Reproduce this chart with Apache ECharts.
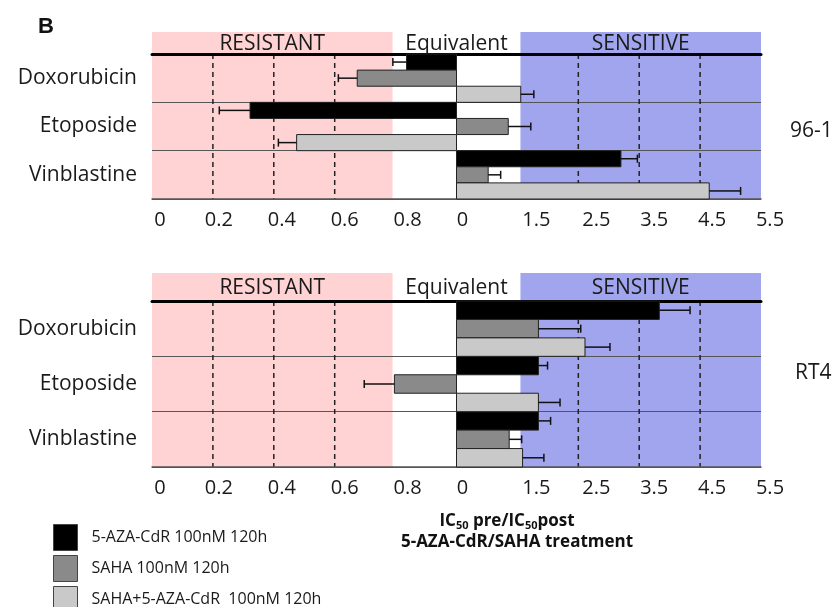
<!DOCTYPE html>
<html>
<head>
<meta charset="utf-8">
<script src="https://cdn.jsdelivr.net/npm/echarts@6/dist/echarts.min.js"></script>
<style>html,body{margin:0;padding:0;background:#fff;}#c{width:836px;height:607px;}</style>
</head>
<body>
<div id="c"></div>
<script>
// ---------- data ----------
const drugs = ['Doxorubicin', 'Etoposide', 'Vinblastine'];
const treatments = ['5-AZA-CdR 100nM 120h', 'SAHA 100nM 120h', 'SAHA+5-AZA-CdR  100nM 120h'];
const cellLines = ['96-1', 'RT4'];
// bar ends and error-bar ends, read as positions on the chart's own axis
// (axis runs 0..2, the centre "no change" line is at 1)
const aza_96_1       = [0.836, 0.322, 1.540];
const aza_96_1_err   = [0.791, 0.221, 1.594];
const saha_96_1      = [0.674, 1.170, 1.104];
const saha_96_1_err  = [0.612, 1.244, 1.145];
const combo_96_1     = [1.211, 0.475, 1.830];
const combo_96_1_err = [1.254, 0.415, 1.933];
const aza_rt4        = [1.666, 1.269, 1.269];
const aza_rt4_err    = [1.767, 1.299, 1.309];
const saha_rt4       = [1.269, 0.796, 1.173];
const saha_rt4_err   = [1.408, 0.697, 1.214];
const combo_rt4      = [1.422, 1.269, 1.217];
const combo_rt4_err  = [1.504, 1.340, 1.287];
const centreValue = 1.0;
const tickValues = [0, 0.2, 0.4, 0.6, 0.8, 1.0, 1.2, 1.4, 1.6, 1.8, 2.0];
const tickLabels = ['0', '0.2', '0.4', '0.6', '0.8', '0', '1.5', '2.5', '3.5', '4.5', '5.5'];
const zoneBounds = [0, 0.79, 1.21, 2.0];
const zoneLabels = ['RESISTANT', 'Equivalent', 'SENSITIVE'];
const dashedAt = [0.2, 0.4, 0.6, 1.4, 1.6, 1.8];

// ---------- styles ----------
const FONT = '"Open Sans", "Noto Sans", sans-serif';
const barColors = ['#000000', '#8a8a8a', '#c9c9c9'];
const zoneColors = ['#ffd3d4', 'rgba(0,0,0,0)', '#a0a5ee'];
// horizontal nudge (px) of each tick label, as in the original figure
const labelNudge = [8, 6, 8, 10, 12, 6, 19, 18, 15, 12, 9];
const labelRich = {};
labelNudge.forEach((n, i) => {
  labelRich['o' + i] = {fontFamily: FONT, fontSize: 20, color: '#1a1a1a', padding: [0, 0, 0, 2 * n]};
});

const chart = echarts.init(document.getElementById('c'), null, {renderer: 'canvas'});

const panels = [
  {values: [aza_96_1, saha_96_1, combo_96_1], errs: [aza_96_1_err, saha_96_1_err, combo_96_1_err], headTop: 32, headH: 22, top: 54, h: 145},
  {values: [aza_rt4, saha_rt4, combo_rt4], errs: [aza_rt4_err, saha_rt4_err, combo_rt4_err], headTop: 273, headH: 28, top: 301, h: 166}
];

const grids = [], xAxes = [], yAxes = [], series = [];
const GL = 152, GW = 609;

function zoneRender(withText) {
  return function (params, api) {
    const i = api.value(2);
    const cs = params.coordSys;
    const p0 = api.coord([api.value(0), 0]);
    const p1 = api.coord([api.value(1), 0]);
    const children = [{
      type: 'rect',
      shape: {x: p0[0], y: cs.y, width: p1[0] - p0[0], height: cs.height},
      style: {fill: zoneColors[i]}
    }];
    if (withText) {
      children.push({
        type: 'text',
        style: {
          text: zoneLabels[i], x: (p0[0] + p1[0]) / 2, y: cs.y + cs.height / 2 + 1,
          align: 'center', verticalAlign: 'middle',
          font: '21px ' + FONT, fill: '#1a1a1a'
        }
      });
    }
    return {type: 'group', children: children};
  };
}

function dashRender(params, api) {
  const cs = params.coordSys;
  const p = api.coord([api.value(0), 0]);
  return {
    type: 'line',
    shape: {x1: p[0], y1: cs.y, x2: p[0], y2: cs.y + cs.height},
    style: {stroke: '#222', lineWidth: 1.5, lineDash: [5, 4]}
  };
}

function barRender(k) {
  return function (params, api) {
    const cat = api.value(1);
    const base = api.coord([centreValue, cat]);
    const endP = api.coord([api.value(0), cat]);
    const errP = api.coord([api.value(2), cat]);
    const band = api.size([0, 1])[1];
    const h = band / 3;
    const y0 = base[1] - band / 2 + k * h;
    const ym = y0 + h / 2;
    return {
      type: 'group',
      children: [
        {type: 'rect', shape: {x: Math.min(base[0], endP[0]), y: y0, width: Math.abs(endP[0] - base[0]), height: h},
          style: {fill: barColors[k], stroke: '#222', lineWidth: 1}},
        {type: 'line', shape: {x1: endP[0], y1: ym, x2: errP[0], y2: ym}, style: {stroke: '#111', lineWidth: 1.5}},
        {type: 'line', shape: {x1: errP[0], y1: ym - 4, x2: errP[0], y2: ym + 4}, style: {stroke: '#111', lineWidth: 1.5}}
      ]
    };
  };
}

panels.forEach((p, pi) => {
  const gHead = grids.length;
  grids.push({left: GL, width: GW, top: p.headTop, height: p.headH});
  const gMain = grids.length;
  grids.push({left: GL, width: GW, top: p.top, height: p.h});

  const xHead = xAxes.length;
  xAxes.push({gridIndex: gHead, type: 'value', min: 0, max: 2, show: false});
  const xMain = xAxes.length;
  xAxes.push({
    gridIndex: gMain, type: 'value', min: 0, max: 2, position: 'bottom', z: 3,
    axisLine: {show: true, onZero: false, lineStyle: {color: '#555', width: 1.5}},
    axisTick: {show: false}, splitLine: {show: false},
    axisLabel: {
      customValues: tickValues, margin: 11,
      fontFamily: FONT, fontSize: 20, color: '#1a1a1a',
      rich: labelRich,
      formatter: function (v) {
        let best = 0;
        tickValues.forEach((t, i) => { if (Math.abs(t - v) < Math.abs(tickValues[best] - v)) best = i; });
        return '{o' + best + '|' + tickLabels[best] + '}';
      }
    }
  });
  xAxes.push({
    gridIndex: gMain, type: 'value', min: 0, max: 2, position: 'top', z: 3,
    axisLine: {show: true, onZero: false, lineStyle: {color: '#000', width: 3}},
    axisTick: {show: false}, axisLabel: {show: false}, splitLine: {show: false}
  });

  const yHead = yAxes.length;
  yAxes.push({gridIndex: gHead, type: 'value', min: 0, max: 1, show: false});
  const yMain = yAxes.length;
  yAxes.push({
    gridIndex: gMain, type: 'category', data: drugs, inverse: true, z: 3,
    axisLine: {show: false}, axisTick: {show: false},
    axisLabel: {margin: 15, fontFamily: FONT, fontSize: 21, color: '#1a1a1a'},
    splitLine: {show: true, interval: 0, lineStyle: {color: '#555', width: 1}}
  });

  series.push({
    type: 'custom', name: 'zonesHead' + pi, xAxisIndex: xHead, yAxisIndex: yHead, z: 1, silent: true,
    renderItem: zoneRender(true), encode: {x: [0, 1]},
    data: zoneLabels.map((l, i) => [zoneBounds[i], zoneBounds[i + 1], i])
  });
  series.push({
    type: 'custom', name: 'zonesMain' + pi, xAxisIndex: xMain, yAxisIndex: yMain, z: 1, silent: true,
    renderItem: zoneRender(false), encode: {x: [0, 1], y: -1},
    data: zoneLabels.map((l, i) => [zoneBounds[i], zoneBounds[i + 1], i])
  });
  series.push({
    type: 'custom', name: 'dashes' + pi, xAxisIndex: xMain, yAxisIndex: yMain, z: 3, silent: true,
    renderItem: dashRender, encode: {x: 0, y: -1},
    data: dashedAt.map(v => [v])
  });
  treatments.forEach((t, k) => {
    series.push({
      type: 'custom', name: t, xAxisIndex: xMain, yAxisIndex: yMain, z: 5,
      itemStyle: {color: barColors[k], borderColor: '#333', borderWidth: 1},
      renderItem: barRender(k), encode: {x: [0, 2], y: 1},
      data: drugs.map((d, i) => [p.values[k][i], i, p.errs[k][i]])
    });
  });
});

const option = {
  animation: false,
  backgroundColor: '#ffffff',
  grid: grids, xAxis: xAxes, yAxis: yAxes, series: series,
  legend: {
    orient: 'vertical', left: 48, top: 519, height: 140, itemWidth: 24, itemHeight: 26, itemGap: 4,
    icon: 'rect', selectedMode: false,
    textStyle: {fontFamily: FONT, fontSize: 16, color: '#1a1a1a', padding: [0, 0, 0, 9]},
    data: treatments.map((t, k) => ({name: t, itemStyle: {color: barColors[k], borderColor: '#444', borderWidth: 1}}))
  },
  graphic: [
    {type: 'text', x: 38, y: 27, style: {text: 'B', font: 'bold 22px "Liberation Sans", Arial, sans-serif', fill: '#111', verticalAlign: 'middle'}},
    {type: 'text', x: 790, y: 131, style: {text: cellLines[0], font: '21px ' + FONT, fill: '#1a1a1a', verticalAlign: 'middle'}},
    {type: 'text', x: 795, y: 373, style: {text: cellLines[1], font: '21px ' + FONT, fill: '#1a1a1a', verticalAlign: 'middle'}},
    {type: 'text', x: 507, y: 521, style: {
      text: 'IC{sub|50} pre/IC{sub|50}post', align: 'center', verticalAlign: 'middle',
      font: 'bold 17px ' + FONT, fill: '#111',
      rich: {sub: {fontSize: 11, fontWeight: 'bold', fontFamily: FONT, fill: '#111', padding: [9, 0, 0, 0]}}
    }},
    {type: 'text', x: 517, y: 542, style: {
      text: '5-AZA-CdR/SAHA treatment', align: 'center', verticalAlign: 'middle',
      font: 'bold 17px ' + FONT, fill: '#111'
    }}
  ]
};
chart.setOption(option);
</script>
</body>
</html>
